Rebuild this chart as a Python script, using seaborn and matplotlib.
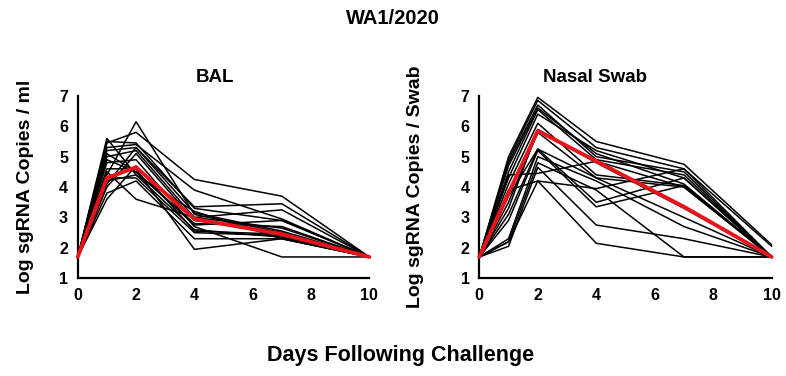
import matplotlib
matplotlib.use("Agg")
import matplotlib.pyplot as plt
import pandas as pd
import seaborn as sns

DAYS = [0, 1, 2, 4, 7, 10]

BAL_ANIMALS = [
    [1.7, 5.6, 4.4, 3.2, 2.3, 1.7],
    [1.7, 5.5, 5.45, 3.3, 2.9, 1.7],
    [1.7, 4.4, 6.15, 3.1, 2.5, 1.7],
    [1.7, 5.45, 5.8, 4.25, 3.7, 1.7],
    [1.7, 5.3, 5.4, 3.9, 2.95, 1.7],
    [1.7, 5.2, 5.3, 3.35, 3.45, 1.7],
    [1.7, 5.0, 5.2, 3.0, 3.25, 1.7],
    [1.7, 4.9, 4.5, 2.8, 2.7, 1.7],
    [1.7, 4.8, 4.9, 2.7, 1.7, 1.7],
    [1.7, 4.6, 4.6, 1.95, 2.3, 1.7],
    [1.7, 4.5, 3.6, 3.0, 2.65, 1.7],
    [1.7, 4.3, 4.3, 2.5, 2.4, 1.7],
    [1.7, 4.2, 4.4, 2.6, 2.35, 1.7],
    [1.7, 4.0, 5.1, 2.9, 2.5, 1.7],
    [1.7, 3.8, 4.2, 2.3, 2.3, 1.7],
    [1.7, 3.6, 4.7, 2.55, 2.45, 1.7],
    [1.7, 5.1, 4.5, 2.75, 2.9, 1.7],
    [1.7, 4.1, 5.3, 3.15, 2.55, 1.7],
]
BAL_MEAN = [1.7, 4.3, 4.65, 2.95, 2.45, 1.7]

NASAL_ANIMALS = [
    [1.7, 5.0, 6.95, 5.5, 4.75, 2.1],
    [1.7, 4.9, 6.85, 5.3, 4.6, 2.05],
    [1.7, 4.8, 6.7, 5.0, 4.5, 1.7],
    [1.7, 4.5, 6.55, 4.9, 4.4, 1.7],
    [1.7, 4.3, 6.4, 5.2, 4.3, 1.7],
    [1.7, 4.1, 6.1, 4.4, 4.05, 1.7],
    [1.7, 3.5, 5.8, 4.3, 4.0, 1.7],
    [1.7, 3.3, 5.9, 4.8, 3.3, 1.7],
    [1.7, 4.4, 4.45, 4.85, 4.0, 1.7],
    [1.7, 3.9, 4.2, 3.95, 4.6, 1.7],
    [1.7, 3.1, 5.25, 3.5, 4.3, 1.7],
    [1.7, 2.9, 5.2, 3.35, 4.05, 1.7],
    [1.7, 2.3, 5.0, 4.2, 2.7, 1.7],
    [1.7, 2.2, 4.8, 3.9, 1.7, 1.7],
    [1.7, 2.05, 4.65, 2.75, 2.3, 1.7],
    [1.7, 2.2, 4.2, 2.15, 1.7, 1.7],
    [1.7, 3.7, 5.25, 4.3, 3.0, 1.7],
    [1.7, 4.7, 6.6, 5.1, 4.1, 1.7],
]
NASAL_MEAN = [1.7, 3.8, 5.85, 4.85, 3.35, 1.7]

X_TICKS = [0, 2, 4, 6, 8, 10]
Y_TICKS = [1, 2, 3, 4, 5, 6, 7]


def to_long(animals):
    rows = []
    for i, vals in enumerate(animals):
        for d, v in zip(DAYS, vals):
            rows.append({"animal": i, "day": d, "value": v})
    return pd.DataFrame(rows)


def draw_panel(ax, animals, mean, ylabel, pad):
    df = to_long(animals)
    sns.lineplot(data=df, x="day", y="value", units="animal", estimator=None,
                 color="black", lw=1.1, ax=ax, clip_on=False)
    mean_df = pd.DataFrame({"day": DAYS, "value": mean})
    sns.lineplot(data=mean_df, x="day", y="value", color="#e8141c", lw=2.8,
                 ax=ax, clip_on=False, zorder=5)
    ax.set_xlim(0, 10)
    ax.set_ylim(1, 7)
    ax.set_xticks(X_TICKS)
    ax.set_yticks(Y_TICKS)
    ax.set_xlabel("")
    ax.set_ylabel(ylabel, fontsize=14, fontweight="bold", labelpad=pad, color="black")
    for s in ["top", "right"]:
        ax.spines[s].set_visible(False)
    for s in ["left", "bottom"]:
        ax.spines[s].set_linewidth(1.6)
        ax.spines[s].set_color("black")
    ax.tick_params(direction="inout", length=6, width=1.4, labelsize=11.5,
                   colors="black", pad=4)
    for lab in ax.get_xticklabels() + ax.get_yticklabels():
        lab.set_fontweight("bold")


sns.set_style("white")
plt.rcParams["font.family"] = ["Liberation Sans", "DejaVu Sans"]
plt.rcParams["text.color"] = "black"

fig = plt.figure(figsize=(7.86, 3.76), dpi=100)
ax1 = fig.add_axes([0.0989, 0.260, 0.371, 0.485])
ax2 = fig.add_axes([0.6098, 0.260, 0.372, 0.485])

draw_panel(ax1, BAL_ANIMALS, BAL_MEAN, "Log sgRNA Copies / ml", 18)
draw_panel(ax2, NASAL_ANIMALS, NASAL_MEAN, "Log sgRNA Copies / Swab", 26)

fig.text(0.5, 0.952, "WA1/2020", ha="center", va="center", fontsize=14.5, fontweight="bold")
fig.text(0.274, 0.793, "BAL", ha="center", va="center", fontsize=13.5, fontweight="bold")
fig.text(0.757, 0.793, "Nasal Swab", ha="center", va="center", fontsize=13.5, fontweight="bold")
fig.text(0.51, 0.055, "Days Following Challenge", ha="center", va="center",
         fontsize=15.5, fontweight="bold")

fig.savefig("out.png", dpi=100)
